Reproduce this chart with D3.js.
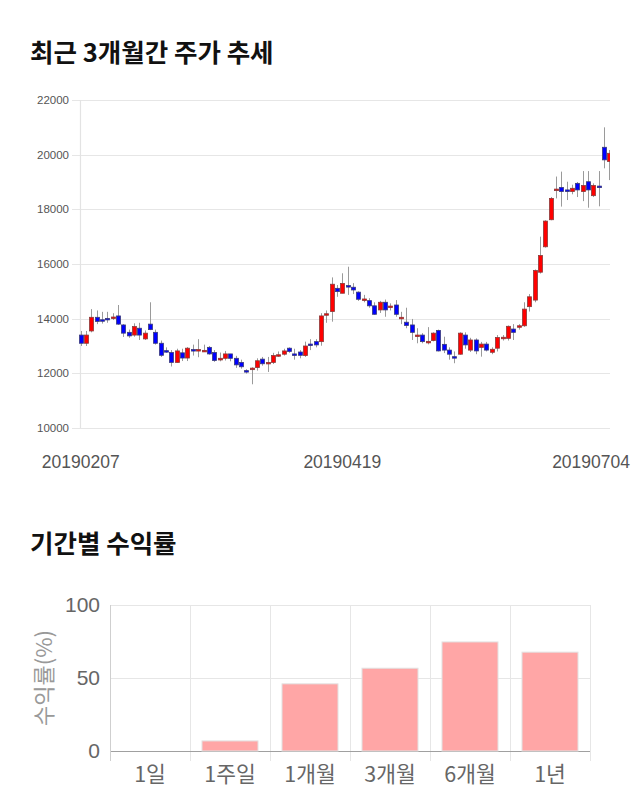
<!DOCTYPE html>
<html><head><meta charset="utf-8">
<script src="https://cdn.jsdelivr.net/npm/d3@7"></script>
<style>
html,body{margin:0;padding:0;background:#fff;}
svg{display:block;}
</style></head>
<body>
<svg id="c" width="640" height="810"></svg>
<script>
// ---- Candlestick data (open, high, low, close) ----
const opens  = [13400,13100,13550,14050,13960,14010,14050,14100,13770,13500,13400,13650,13260,13800,13500,13100,12830,12760,12400,12750,
                12560,12870,12830,12830,12950,12760,12490,12550,12710,12550,12400,12100,12180,12210,12520,12370,12400,12630,12700,12920,
                12710,12780,12650,13070,13160,13160,14170,14260,15110,14930,15210,15150,14970,14710,14660,14470,14320,14600,14430,14500,
                14010,13870,13770,13360,13400,13160,13200,13570,13060,12850,12610,12700,13400,12850,13220,12950,13070,12770,12920,13300,
                13280,13620,13720,13740,14440,14680,15700,16630,17620,18710,18800,18710,18650,18950,18650,19010,18500,18850,20270,19750];
const highs  = [13550,13550,14350,14300,14250,14250,14200,14500,13800,13600,13830,13850,13570,14600,13600,13200,12950,12850,12900,12900,
                12960,13050,13250,13050,13000,12850,12760,12820,12710,12640,12500,12150,12220,12550,12600,12600,12750,12800,12900,12950,
                12900,12850,13160,13250,13250,14200,14300,15510,15230,15660,15900,15300,15000,14870,14750,14600,14650,14700,14560,14680,
                14250,14400,13990,13650,13470,13690,13500,13600,13340,12950,12800,13500,13500,13300,13280,13150,13150,12950,13400,13400,
                13750,13800,13800,14600,14900,15800,17000,17600,18450,19200,19380,19010,18900,19000,19400,19400,18950,19400,21000,20170];
const lows   = [13000,13000,13500,13800,13820,13850,13950,13770,13330,13300,13340,13220,13220,13580,13050,12600,12750,12250,12390,12450,
                12450,12650,12590,12780,12680,12420,12440,12470,12440,12200,12170,11990,11600,12100,12280,12050,12340,12600,12650,12750,
                12500,12550,12600,12850,12950,13010,13850,13890,14800,14930,14870,14900,14650,14600,14400,14140,14210,14070,14300,14070,
                13800,13650,13220,13100,13100,13060,13170,12800,12740,12500,12370,12680,12900,12780,12700,12610,12800,12700,12800,13200,
                13200,13220,13600,13700,14260,14600,15650,16600,17600,18400,18100,18340,18550,18450,18300,18060,18450,18110,19500,19070];
const closes = [13100,13400,14050,13900,13910,13960,14060,13800,13470,13370,13710,13400,13470,13600,13100,12660,12780,12400,12820,12560,
                12920,12830,12870,12840,12710,12470,12550,12710,12550,12310,12240,12060,12190,12460,12350,12400,12650,12680,12820,12800,
                12670,12660,13000,13040,13040,14100,14180,15260,14990,15290,15170,15050,14710,14720,14470,14160,14600,14320,14460,14160,
                14050,13750,13500,13400,13160,13170,13470,12820,12850,12700,12570,13470,13040,13220,12820,13070,12850,12880,13310,13320,
                13720,13500,13740,14350,14800,15760,16310,17570,18400,18740,18650,18650,18770,18710,18870,18710,18870,18800,19810,20050];
const priceTicks = [10000,12000,14000,16000,18000,20000,22000];
const dateTickIdx = [0,49,99];
const dateTickLabels = ["20190207","20190419","20190704"];

// ---- Return bar data ----
const periods = ["1일","1주일","1개월","3개월","6개월","1년"];
const returns = [0,6.9,46,56.7,74.7,67.7];
const returnTicks = [0,50,100];

const svg = d3.select("#c");
const KR = "'Noto Sans CJK KR','Noto Sans',sans-serif";
const NUM = "'Liberation Sans',Arial,sans-serif";

// Titles
svg.append("text").attr("x",30).attr("y",62).text("최근 3개월간 주가 추세")
  .attr("font-family",KR).attr("font-weight","bold").attr("font-size",25.5).attr("fill","#111");
svg.append("text").attr("x",30).attr("y",553).text("기간별 수익률")
  .attr("font-family",KR).attr("font-weight","bold").attr("font-size",25.5).attr("fill","#111");

// ---- Candlestick chart ----
const n = opens.length;
const x = d3.scaleLinear().domain([0,n-1]).range([80.7,609.3]);
const y = d3.scaleLinear().domain([10000,22000]).range([428,100]);
const gTop = svg.append("g");

gTop.selectAll("line.grid").data(priceTicks).join("line")
  .attr("x1",72).attr("x2",610).attr("y1",d=>Math.round(y(d))+0.5).attr("y2",d=>Math.round(y(d))+0.5)
  .attr("stroke","#e6e6e6").attr("stroke-width",1);
gTop.append("line").attr("x1",80.5).attr("x2",80.5).attr("y1",y(22000)).attr("y2",y(10000))
  .attr("stroke","#e3e3e3").attr("stroke-width",1.2);
gTop.selectAll("text.pt").data(priceTicks).join("text")
  .attr("x",69).attr("y",d=>y(d)+4).attr("text-anchor","end").text(d=>d)
  .attr("font-family",NUM).attr("font-size",11.5).attr("fill","#555");

svg.append("clipPath").attr("id","clip").append("rect").attr("x",78).attr("y",90).attr("width",532).attr("height",345);
const cg = gTop.append("g").attr("clip-path","url(#clip)");
const idx = d3.range(n);
cg.selectAll("line.wick").data(idx).join("line")
  .attr("x1",i=>Math.round(x(i))+0.5).attr("x2",i=>Math.round(x(i))+0.5)
  .attr("y1",i=>y(highs[i])).attr("y2",i=>y(lows[i]))
  .attr("stroke","#9a9a9a").attr("stroke-width",1);
const bw = 4;
cg.selectAll("rect.body").data(idx).join("rect")
  .attr("x",i=>Math.round(x(i))+0.5-bw/2)
  .attr("width",bw)
  .attr("y",i=>y(Math.max(opens[i],closes[i])))
  .attr("height",i=>Math.max(1.5,Math.abs(y(opens[i])-y(closes[i]))))
  .attr("fill",i=>closes[i]>=opens[i]?"#ff0000":"#0000ff")
  .attr("stroke",i=>closes[i]>=opens[i]?"#8a3a3a":"#3a3a7a")
  .attr("stroke-width",0.8);

// date labels
gTop.selectAll("text.dt").data(dateTickIdx).join("text")
  .attr("y",468).attr("text-anchor","middle").text((d,k)=>dateTickLabels[k])
  .attr("font-family",NUM).attr("font-size",17.5).attr("fill","#555")
  .each(function(d){
    const w = this.getComputedTextLength();
    let cx = x(d);
    if (cx + w/2 > 630) cx = 630 - w/2;
    d3.select(this).attr("x",cx);
  });

// ---- Bar chart ----
const xb = d3.scaleBand().domain(periods).range([110,590]).paddingInner(0.3).paddingOuter(0.15);
const yb = d3.scaleLinear().domain([0,100]).range([751,605]);
const gBot = svg.append("g");
const step = xb.step();
const bounds = d3.range(periods.length+1).map(k=>110+k*step);
gBot.selectAll("line.vg").data(bounds).join("line")
  .attr("x1",d=>Math.round(d)+0.5).attr("x2",d=>Math.round(d)+0.5).attr("y1",yb(100)).attr("y2",yb(0)+10)
  .attr("stroke","#e6e6e6");
gBot.selectAll("line.hg").data(returnTicks).join("line")
  .attr("x1",110).attr("x2",590).attr("y1",d=>Math.round(yb(d))+0.5).attr("y2",d=>Math.round(yb(d))+0.5)
  .attr("stroke",d=>d===0?"#a0a0a0":"#e6e6e6");
gBot.append("line").attr("x1",110.5).attr("x2",110.5).attr("y1",yb(100)).attr("y2",yb(0)+10).attr("stroke","#cfcfcf");
gBot.selectAll("rect.bar").data(periods).join("rect")
  .attr("x",d=>xb(d)).attr("width",xb.bandwidth())
  .attr("y",(d,i)=>yb(returns[i])).attr("height",(d,i)=>yb(0)-yb(returns[i]))
  .attr("fill","#ffa6a6").attr("stroke","#e2e2e2").attr("stroke-width",1)
  .attr("display",(d,i)=>returns[i]>0?null:"none");
gBot.selectAll("text.rt").data(returnTicks).join("text")
  .attr("x",100).attr("y",d=>yb(d)+7).attr("text-anchor","end").text(d=>d)
  .attr("font-family",NUM).attr("font-size",21).attr("fill","#666");
gBot.selectAll("text.cat").data(periods).join("text")
  .attr("x",d=>xb(d)+xb.bandwidth()/2).attr("y",782).attr("text-anchor","middle").text(d=>d)
  .attr("font-family",KR).attr("font-size",21.5).attr("fill","#666");
gBot.append("text").attr("transform","translate(52,678) rotate(-90)").attr("text-anchor","middle")
  .text("수익률(%)").attr("font-family",KR).attr("font-size",22).attr("fill","#999");
</script>
</body></html>
